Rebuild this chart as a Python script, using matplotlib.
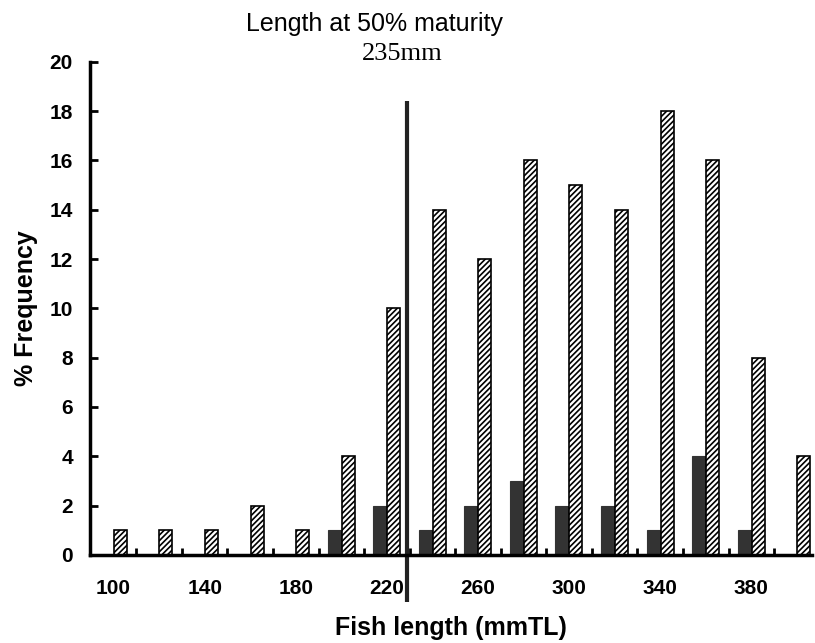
import numpy as np
import matplotlib.pyplot as plt

# length classes (mm TL) and % frequency
lengths = [100, 120, 140, 160, 180, 200, 220, 240, 260, 280, 300, 320, 340, 360, 380, 400]
dark = [0, 0, 0, 0, 0, 1, 2, 1, 2, 3, 2, 2, 1, 4, 1, 0]
hatched = [1, 1, 1, 2, 1, 4, 10, 14, 12, 16, 15, 14, 18, 16, 8, 4]
tick_labels = [100, 140, 180, 220, 260, 300, 340, 380]
l50 = 229

plt.rcParams['font.family'] = ['Liberation Sans', 'DejaVu Sans']
plt.rcParams['hatch.linewidth'] = 1.2

fig = plt.figure(figsize=(8.15, 6.43), dpi=100)
ax = fig.add_axes([0.110, 0.137, 0.886, 0.767])

x = np.array(lengths)
w = 6
ax.bar(x - w / 2, dark, width=w, color='#333333', edgecolor='#333333', linewidth=0.8)
ax.bar(x + w / 2, hatched, width=w * 0.95, color='white', edgecolor='black',
       hatch='//////', linewidth=1.2)

# vertical line for L50
ax.plot([l50, l50], [-1.9, 18.4], color='#222222', linewidth=3, clip_on=False,
        solid_capstyle='butt')

ax.set_xlim(89.5, 406.5)
ax.set_ylim(0, 20)
ax.set_yticks(range(0, 21, 2))
ax.set_xticks(tick_labels)
ax.set_xticks(np.arange(110, 400, 20), minor=True)

for s in ['top', 'right']:
    ax.spines[s].set_visible(False)
ax.spines['left'].set_linewidth(2.5)
ax.spines['bottom'].set_linewidth(2.5)

ax.tick_params(axis='y', direction='in', length=6, width=2, labelsize=15, pad=12)
ax.tick_params(axis='x', which='major', length=0, labelsize=15, pad=17)
ax.tick_params(axis='x', which='minor', direction='in', length=5, width=2)
for lab in ax.get_xticklabels() + ax.get_yticklabels():
    lab.set_fontweight('bold')

ax.set_ylabel('% Frequency', fontsize=18, fontweight='bold', labelpad=8)
ax.set_xlabel('Fish length (mmTL)', fontsize=18, fontweight='bold', labelpad=13)

fig.text(0.46, 0.963, 'Length at 50% maturity', ha='center', va='center', fontsize=18)
fig.text(0.494, 0.916, '235mm', ha='center', va='center', fontsize=19,
         family='Liberation Serif')

fig.savefig('out.png', dpi=100)
